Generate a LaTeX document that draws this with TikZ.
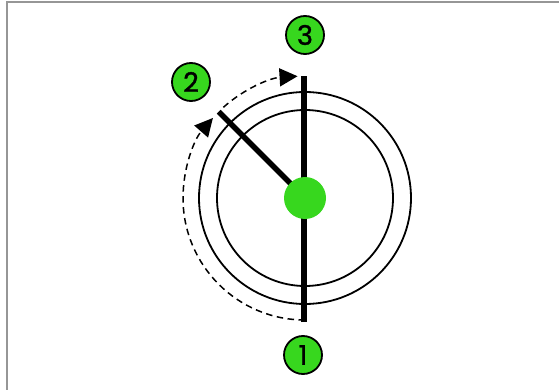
\documentclass[tikz,border=0pt]{standalone}
\usepackage{fontspec}
\setmainfont{Poppins}
\newfontfamily\badgefont{Poppins}[FakeBold=1.3]
\usetikzlibrary{arrows.meta,calc}
\definecolor{dotgreen}{RGB}{55,215,30}
\definecolor{framegray}{RGB}{150,150,150}
\tikzset{
  numbadge/.style={circle, draw=black, line width=1.8pt, fill=dotgreen, minimum size=38pt, inner sep=0pt, font=\badgefont\fontsize{27}{27}\selectfont},
  ring/.style={draw=black, line width=1.8pt},
  hand/.style={draw=black, line width=5.5pt},
  travel/.style={draw=black, line width=1.5pt, dash pattern=on 6.5pt off 4.5pt, -{Triangle[length=18pt,width=18pt]}},
}
\begin{document}
\begin{tikzpicture}[x=1pt,y=-1pt]
\useasboundingbox (0,0) rectangle (559,390);
\fill[white] (0,0) rectangle (559,390);
% frame
\draw[framegray, line width=1.5pt] (7,390) -- (7,2) -- (559,2);
% centre
\coordinate (C) at (305,198);
\draw[ring] (C) circle[radius=106pt];
\draw[ring] (C) circle[radius=88pt];
% hands
\coordinate (top) at (304,76);
\coordinate (bot) at (304,322);
\coordinate (tip2) at ($(C)+(135:122pt)$);
\draw[hand] (bot) -- (top);
\draw[hand] (C) -- (tip2);
\fill[dotgreen] (C) circle[radius=21pt];
% travel arcs
\draw[travel] ($(C)+(270:122pt)$) arc[start angle=270, end angle=139, radius=122pt];
\draw[travel] ($(C)+(132:122pt)$) arc[start angle=132, end angle=93.5, radius=122pt];
% badges
\node[numbadge] (n1) at (303,355) {1};
\node[numbadge] (n2) at (191,82) {2};
\node[numbadge] (n3) at (305,35) {3};
\end{tikzpicture}
\end{document}
